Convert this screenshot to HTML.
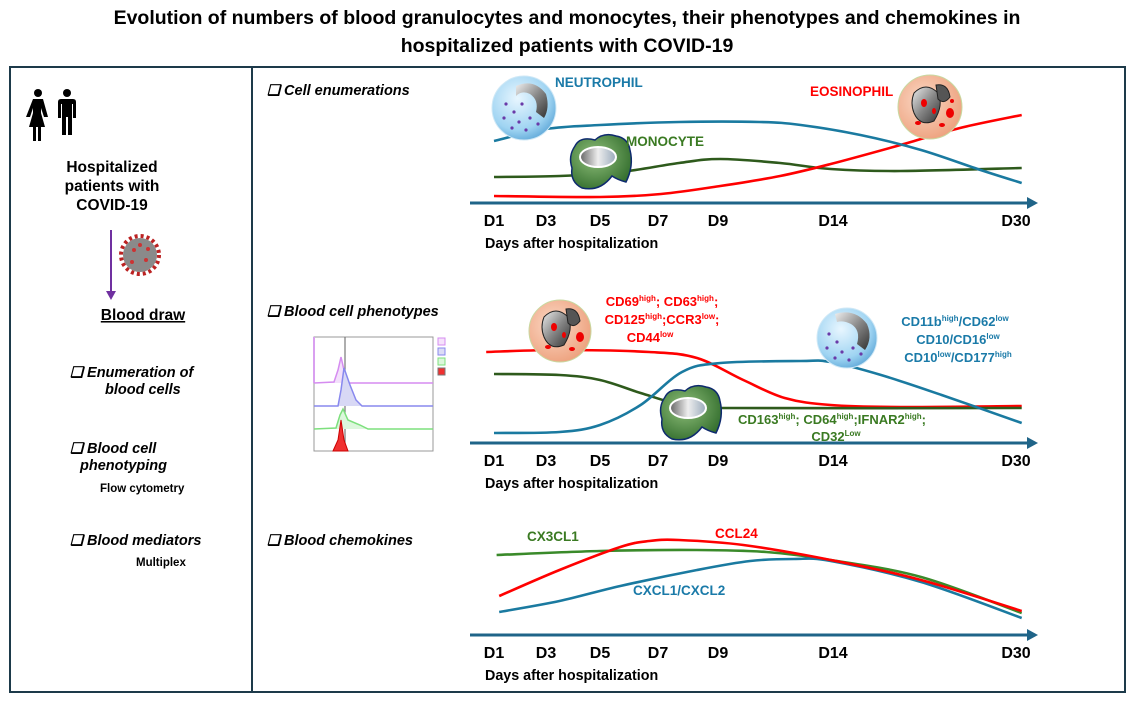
<!DOCTYPE html>
<html><head><meta charset="utf-8">
<style>
html,body{margin:0;padding:0;background:#fff;}
svg{display:block;font-family:"Liberation Sans",sans-serif;}
.t{font-weight:bold;}
</style></head>
<body>
<svg id="fig" width="1134" height="702" viewBox="0 0 1134 702">
<defs>
 <radialGradient id="gNeu" cx="0.4" cy="0.35" r="0.7"><stop offset="0" stop-color="#e8f6ff"/><stop offset="0.7" stop-color="#9fd4f2"/><stop offset="1" stop-color="#5fa8d8"/></radialGradient>
 <radialGradient id="gEos" cx="0.4" cy="0.4" r="0.7"><stop offset="0" stop-color="#fbd9c6"/><stop offset="1" stop-color="#ec9d78"/></radialGradient>
 <linearGradient id="gNuc" x1="0" y1="0" x2="1" y2="1"><stop offset="0" stop-color="#eee"/><stop offset="0.5" stop-color="#888"/><stop offset="1" stop-color="#333"/></linearGradient>
 <radialGradient id="gMono" cx="0.4" cy="0.4" r="0.7"><stop offset="0" stop-color="#8fbf7a"/><stop offset="1" stop-color="#2f6a2a"/></radialGradient>
 <linearGradient id="gMnuc" x1="0" y1="0" x2="1" y2="0"><stop offset="0" stop-color="#666"/><stop offset="0.5" stop-color="#eee"/><stop offset="1" stop-color="#9ab"/></linearGradient>
</defs>

<text class="t" x="567" y="24" font-size="19.5" text-anchor="middle">Evolution of numbers of blood granulocytes and monocytes, their phenotypes and chemokines in</text>
<text class="t" x="567" y="52" font-size="19.5" text-anchor="middle">hospitalized patients with COVID-19</text>

<rect x="10" y="67" width="1115" height="625" fill="none" stroke="#1d3a4a" stroke-width="2"/>
<line x1="252" y1="67" x2="252" y2="692" stroke="#1d3a4a" stroke-width="2"/>

<!-- left column -->
<g fill="#000">
 <circle cx="38" cy="93" r="4"/><path d="M33 99 h10 l5 18 h-4 l-3 -9 v5 l4 14 h-4 v14 h-3 v-14 h-2 v14 h-3 v-14 h-4 l4 -14 v-5 l-3 9 h-4z"/>
 <circle cx="67" cy="93" r="4"/><path d="M61 99 h12 q3 0 3 3 v16 h-3 v-14 h-1 v31 h-4 v-18 h-2 v18 h-4 v-31 h-1 v14 h-3 v-16 q0 -3 3 -3z"/>
</g>
<text class="t" font-size="15.5" text-anchor="middle"><tspan x="112" y="172">Hospitalized</tspan><tspan x="112" y="191">patients with</tspan><tspan x="112" y="210">COVID-19</tspan></text>
<line x1="111" y1="230" x2="111" y2="293" stroke="#7030a0" stroke-width="2"/>
<path d="M106 291 L116 291 L111 300Z" fill="#7030a0"/>
<g>
 <circle cx="140" cy="255" r="17" fill="#8a8a8a"/>
 <circle cx="140" cy="255" r="19" fill="none" stroke="#b22" stroke-width="4" stroke-dasharray="3 3"/>
 <circle cx="134" cy="250" r="2" fill="#c33"/><circle cx="146" cy="260" r="2" fill="#c33"/><circle cx="140" cy="245" r="2" fill="#c33"/><circle cx="132" cy="262" r="2" fill="#c33"/><circle cx="148" cy="249" r="2" fill="#c33"/>
</g>
<text class="t" x="143" y="320" font-size="15.5" text-anchor="middle" text-decoration="underline">Blood draw</text>
<text class="t" font-size="14.5" font-style="italic"><tspan x="70" y="377">❑ Enumeration of</tspan><tspan x="105" y="394">blood cells</tspan></text>
<text class="t" font-size="14.5" font-style="italic"><tspan x="70" y="453">❑ Blood cell</tspan><tspan x="80" y="470">phenotyping</tspan></text>
<text class="t" x="100" y="492" font-size="11.5">Flow cytometry</text>
<text class="t" x="70" y="545" font-size="14.5" font-style="italic">❑ Blood mediators</text>
<text class="t" x="136" y="566" font-size="11.5">Multiplex</text>

<!-- section headings -->
<text class="t" x="267" y="95" font-size="14.5" font-style="italic">❑ Cell enumerations</text>
<text class="t" x="267" y="316" font-size="14.5" font-style="italic">❑ Blood cell phenotypes</text>
<text class="t" x="267" y="545" font-size="14.5" font-style="italic">❑ Blood chemokines</text>

<!-- flow cytometry mini histogram -->
<g>
 <rect x="314" y="337" width="119" height="114" fill="none" stroke="#999" stroke-width="1"/>
 <line x1="345" y1="337" x2="345" y2="451" stroke="#777" stroke-width="1.2"/>
 <line x1="314" y1="337" x2="314" y2="383" stroke="#d9a0f0" stroke-width="2"/>
 <path d="M314 383 L334 382 L338 370 L341 357 L344 370 L348 383 L433 383" fill="#f3e0fb" stroke="#d58cf0" stroke-width="1.5"/>
 <path d="M314 406 L338 406 L341 390 L344 368 L350 385 L356 400 L362 406 L433 406" fill="#d8d8f5" stroke="#8888ee" stroke-width="1.5"/>
 <path d="M314 429 L336 428 L340 415 L343 409 L348 420 L360 425 L368 429 L433 429" fill="#dcf7dc" stroke="#7de07d" stroke-width="1.5"/>
 <path d="M333 451 L338 440 L341 420 L344 440 L348 451Z" fill="#f03030" stroke="#c00" stroke-width="1"/>
 <rect x="438" y="338" width="7" height="7" fill="#f6e2fb" stroke="#d58cf0"/>
 <rect x="438" y="348" width="7" height="7" fill="#dcdcf6" stroke="#8888ee"/>
 <rect x="438" y="358" width="7" height="7" fill="#dcf7dc" stroke="#7de07d"/>
 <rect x="438" y="368" width="7" height="7" fill="#f03030" stroke="#777"/>
</g>

<g id="panels"></g>

<!-- cell icons -->
<g transform="translate(524,108)">
 <circle r="32" fill="url(#gNeu)" stroke="#cfe8f6"/>
 <path d="M-8 -22 Q10 -30 22 -14 Q26 0 20 10 L12 4 Q15 -8 6 -14 Q-2 -18 -8 -12Z" fill="url(#gNuc)"/>
 <g fill="#6a3aa8"><circle cx="-18" cy="-4" r="1.6"/><circle cx="-10" cy="4" r="1.6"/><circle cx="-20" cy="10" r="1.6"/><circle cx="-5" cy="14" r="1.6"/><circle cx="6" cy="10" r="1.6"/><circle cx="-12" cy="20" r="1.6"/><circle cx="2" cy="22" r="1.6"/><circle cx="14" cy="16" r="1.6"/><circle cx="-2" cy="-4" r="1.6"/></g>
</g>
<g transform="translate(930,107)">
 <circle r="32" fill="url(#gEos)" stroke="#c8d9a0"/>
 <path d="M-16 -14 Q-4 -26 8 -14 Q14 -2 4 14 Q-10 20 -16 6 Q-20 -4 -16 -14Z" fill="url(#gNuc)" stroke="#222"/>
 <path d="M6 -22 Q18 -24 20 -10 Q14 -2 8 -8Z" fill="#555" stroke="#222"/>
 <g fill="#e00"><ellipse cx="-6" cy="-4" rx="3" ry="4"/><ellipse cx="20" cy="6" rx="4" ry="5"/><ellipse cx="12" cy="18" rx="3" ry="2"/><ellipse cx="-12" cy="16" rx="3" ry="2"/><ellipse cx="22" cy="-6" rx="2" ry="2"/><ellipse cx="4" cy="4" rx="2" ry="3"/></g>
</g>
<g transform="translate(600,160)">
 <path d="M-25 -14 Q-20 -24 -5 -20 Q4 -28 16 -24 Q28 -22 30 -10 Q34 6 26 22 Q18 20 12 16 Q0 32 -18 28 Q-30 22 -28 8 Q-32 -4 -25 -14Z" fill="url(#gMono)" stroke="#0e2a6e" stroke-width="1.5"/>
 <ellipse cx="-2" cy="-3" rx="18" ry="10" fill="url(#gMnuc)" stroke="#fff" stroke-width="2"/>
</g>
<text class="t" x="555" y="87" font-size="13.5" fill="#1a7aa8">NEUTROPHIL</text>
<text class="t" x="810" y="96" font-size="13.5" fill="#f00">EOSINOPHIL</text>
<text class="t" x="626" y="146" font-size="13.5" fill="#3a7a22">MONOCYTE</text>

<g transform="translate(560,331)">
 <circle r="31" fill="url(#gEos)" stroke="#c8d9a0"/>
 <path d="M-16 -14 Q-4 -26 8 -14 Q14 -2 4 14 Q-10 20 -16 6 Q-20 -4 -16 -14Z" fill="url(#gNuc)" stroke="#222"/>
 <path d="M6 -22 Q18 -24 20 -10 Q14 -2 8 -8Z" fill="#555" stroke="#222"/>
 <g fill="#e00"><ellipse cx="-6" cy="-4" rx="3" ry="4"/><ellipse cx="20" cy="6" rx="4" ry="5"/><ellipse cx="12" cy="18" rx="3" ry="2"/><ellipse cx="-12" cy="16" rx="3" ry="2"/><ellipse cx="4" cy="4" rx="2" ry="3"/></g>
</g>
<g transform="translate(847,338)">
 <circle r="30" fill="url(#gNeu)" stroke="#cfe8f6"/>
 <path d="M-12 -24 Q8 -30 20 -14 Q26 0 18 12 L10 6 Q14 -8 4 -14 Q-4 -18 -10 -16Z" fill="url(#gNuc)"/>
 <g fill="#6a3aa8"><circle cx="-18" cy="-4" r="1.6"/><circle cx="-10" cy="4" r="1.6"/><circle cx="-20" cy="10" r="1.6"/><circle cx="-5" cy="14" r="1.6"/><circle cx="6" cy="10" r="1.6"/><circle cx="-12" cy="20" r="1.6"/><circle cx="2" cy="22" r="1.6"/><circle cx="14" cy="16" r="1.6"/></g>
</g>
<g transform="translate(690,411)">
 <path d="M-25 -14 Q-20 -24 -5 -20 Q4 -28 16 -24 Q28 -22 30 -10 Q34 6 26 22 Q18 20 12 16 Q0 32 -18 28 Q-30 22 -28 8 Q-32 -4 -25 -14Z" fill="url(#gMono)" stroke="#0e2a6e" stroke-width="1.5"/>
 <ellipse cx="-2" cy="-3" rx="18" ry="10" fill="url(#gMnuc)" stroke="#fff" stroke-width="2"/>
</g>

<text class="t" font-size="13" fill="#f00" text-anchor="middle"><tspan x="662" y="306">CD69<tspan font-size="8" dy="-5">high</tspan><tspan dy="5">; CD63</tspan><tspan font-size="8" dy="-5">high</tspan><tspan dy="5">;</tspan></tspan><tspan x="662" y="324">CD125<tspan font-size="8" dy="-5">high</tspan><tspan dy="5">;CCR3</tspan><tspan font-size="8" dy="-5">low</tspan><tspan dy="5">;</tspan></tspan><tspan x="650" y="342">CD44<tspan font-size="8" dy="-5">low</tspan></tspan></text>
<text class="t" font-size="13" fill="#1a7aa8" text-anchor="middle"><tspan x="955" y="326">CD11b<tspan font-size="8" dy="-5">high</tspan><tspan dy="5">/CD62</tspan><tspan font-size="8" dy="-5">low</tspan></tspan><tspan x="958" y="344">CD10/CD16<tspan font-size="8" dy="-5">low</tspan></tspan><tspan x="958" y="362">CD10<tspan font-size="8" dy="-5">low</tspan><tspan dy="5">/CD177</tspan><tspan font-size="8" dy="-5">high</tspan></tspan></text>
<text class="t" font-size="13" fill="#3a7a22" text-anchor="middle"><tspan x="832" y="424">CD163<tspan font-size="8" dy="-5">high</tspan><tspan dy="5">; CD64</tspan><tspan font-size="8" dy="-5">high</tspan><tspan dy="5">;IFNAR2</tspan><tspan font-size="8" dy="-5">high</tspan><tspan dy="5">;</tspan></tspan><tspan x="836" y="441">CD32<tspan font-size="8" dy="-5">Low</tspan></tspan></text>

<text class="t" x="527" y="541" font-size="13.5" fill="#3a7a22">CX3CL1</text>
<text class="t" x="715" y="538" font-size="13.5" fill="#f00">CCL24</text>
<text class="t" x="633" y="595" font-size="13.5" fill="#1a7aa8">CXCL1/CXCL2</text>

<script>
// time-axis tick labels and scale anchors
const tickDays = [1, 3, 5, 7, 9, 14, 30];
const tickLabels = ["D1", "D3", "D5", "D7", "D9", "D14", "D30"];
// panel 1: cell counts (relative level)
const p1NeuDays = [1, 3, 5, 7.7, 10.8, 12.6, 16.4, 21.7, 26.9, 30.5];
const p1NeuVals = [62, 74, 78, 81, 81, 78, 68, 53, 33, 20];
const p1MonoDays = [1, 3.5, 5.7, 7.7, 9.1, 11.7, 13.9, 19.9, 30.5];
const p1MonoVals = [26, 27, 31, 40, 44, 40, 34, 32, 35];
const p1EosDays = [1, 5, 7.1, 9.1, 11.7, 13.9, 19.9, 25.1, 30.5];
const p1EosVals = [7, 6, 9, 17, 27, 39, 58, 75, 88];
// panel 2: phenotypes
const p2EosDays = [0.7, 3.5, 6.7, 8.3, 10.1, 11.9, 13.9, 19.9, 30.5];
const p2EosVals = [91, 93, 91, 85, 63, 45, 38, 36, 37];
const p2MonoDays = [1, 3.5, 5, 6.4, 7.8, 9.1, 30.5];
const p2MonoVals = [69, 68, 63, 50, 38, 35, 35];
const p2NeuDays = [1, 3.5, 5, 6.4, 7.8, 9.1, 12.6, 13.9, 18.2, 23.5, 30.5];
const p2NeuVals = [10, 11, 18, 38, 71, 80, 82, 81, 68, 48, 20];
// panel 3: chemokines
const p3CxDays = [1.1, 5, 8.3, 11.1, 13.9, 21.7, 30.5];
const p3CxVals = [80, 84, 85, 83, 75, 58, 22];
const p3CclDays = [1.2, 3.5, 5.7, 6.7, 7.7, 10.1, 13.9, 21.7, 30.5];
const p3CclVals = [39, 65, 88, 94, 95, 90, 75, 55, 24];
const p3CxclDays = [1.2, 3.5, 5.7, 8.3, 10.4, 12.3, 13.9, 21.7, 30.5];
const p3CxclVals = [23, 34, 49, 65, 74, 76, 74, 53, 17];

const NS = "http://www.w3.org/2000/svg";
const root = document.getElementById("panels");
const tickX = [494, 546, 600, 658, 718, 833, 1016];
function xScale(d) {
  if (d <= tickDays[0]) return tickX[0] + (d - tickDays[0]) * 26;
  for (let i = 1; i < tickDays.length; i++) {
    if (d <= tickDays[i]) {
      const t = (d - tickDays[i-1]) / (tickDays[i] - tickDays[i-1]);
      return tickX[i-1] + t * (tickX[i] - tickX[i-1]);
    }
  }
  return tickX[tickX.length-1] + (d - 30) * 11.4;
}
function yScale(base, v) { return base - v; }
function smooth(pts) {
  let d = "M" + pts[0][0].toFixed(1) + " " + pts[0][1].toFixed(1);
  for (let i = 0; i < pts.length - 1; i++) {
    const p0 = pts[i-1] || pts[i], p1 = pts[i], p2 = pts[i+1], p3 = pts[i+2] || p2;
    const c1 = [p1[0] + (p2[0]-p0[0])/6, p1[1] + (p2[1]-p0[1])/6];
    const c2 = [p2[0] - (p3[0]-p1[0])/6, p2[1] - (p3[1]-p1[1])/6];
    d += " C" + c1.join(" ") + " " + c2.join(" ") + " " + p2.join(" ");
  }
  return d;
}
function curve(base, days, vals, color, name) {
  const pts = days.map((d, i) => [xScale(d), yScale(base, vals[i])]);
  const p = document.createElementNS(NS, "path");
  p.setAttribute("d", smooth(pts));
  p.setAttribute("fill", "none");
  p.setAttribute("stroke", color);
  p.setAttribute("stroke-width", "2.6");
  
  
  root.appendChild(p);
}
function axis(base, prefix) {
  const l = document.createElementNS(NS, "line");
  l.setAttribute("x1", 470); l.setAttribute("x2", 1030);
  l.setAttribute("y1", base); l.setAttribute("y2", base);
  l.setAttribute("stroke", "#1f6488"); l.setAttribute("stroke-width", "3");
  
  
  root.appendChild(l);
  const a = document.createElementNS(NS, "path");
  a.setAttribute("d", `M1027 ${base-6} L1038 ${base} L1027 ${base+6}Z`);
  a.setAttribute("fill", "#1f6488");
  
  
  root.appendChild(a);
  tickDays.forEach((d, i) => {
    const t = document.createElementNS(NS, "text");
    t.setAttribute("x", xScale(d)); t.setAttribute("y", base + 23);
    t.setAttribute("text-anchor", "middle"); t.setAttribute("font-size", "16");
    t.setAttribute("font-weight", "bold");
    t.textContent = tickLabels[i];
    
    
    root.appendChild(t);
  });
  const lab = document.createElementNS(NS, "text");
  lab.setAttribute("x", 485); lab.setAttribute("y", base + 45);
  lab.setAttribute("font-size", "14.3"); lab.setAttribute("font-weight", "bold");
  lab.textContent = "Days after hospitalization";
  
  
  root.appendChild(lab);
}
axis(203, "enumeration");
axis(443, "phenotype");
axis(635, "chemokine");
curve(203, p1MonoDays, p1MonoVals, "#2e5a1c", "monocyte-count-line");
curve(203, p1EosDays, p1EosVals, "#ff0000", "eosinophil-count-line");
curve(203, p1NeuDays, p1NeuVals, "#1a7aa0", "neutrophil-count-line");
curve(443, p2EosDays, p2EosVals, "#ff0000", "eosinophil-phenotype-line");
curve(443, p2MonoDays, p2MonoVals, "#2e5a1c", "monocyte-phenotype-line");
curve(443, p2NeuDays, p2NeuVals, "#1a7aa0", "neutrophil-phenotype-line");
curve(635, p3CxDays, p3CxVals, "#3a8a2a", "cx3cl1-line");
curve(635, p3CxclDays, p3CxclVals, "#1a7aa0", "cxcl1-cxcl2-line");
curve(635, p3CclDays, p3CclVals, "#ff0000", "ccl24-line");
</script>
</svg>
</body></html>
